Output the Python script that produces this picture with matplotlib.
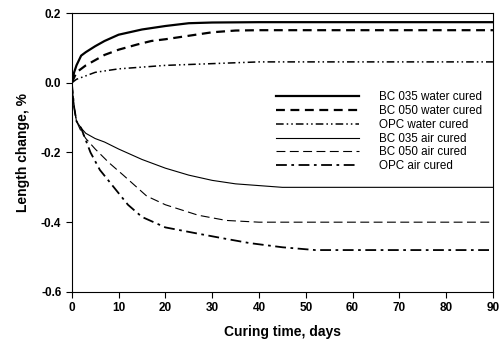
import matplotlib.pyplot as plt

plt.rcParams["font.family"] = ["Liberation Sans", "DejaVu Sans"]

# curing time (days) and length change (%)
days_bc035w = [0, 0.5, 1, 2, 3, 5, 7, 10, 15, 20, 25, 30, 40, 52, 60, 70, 80, 90]
bc035_water = [0, 0.03, 0.05, 0.078, 0.088, 0.105, 0.12, 0.138, 0.153, 0.163, 0.171, 0.173, 0.174, 0.174, 0.174, 0.174, 0.174, 0.174]

days_bc050w = [0, 1, 2, 3, 5, 7, 10, 14, 17, 20, 25, 30, 35, 40, 52, 60, 70, 80, 90]
bc050_water = [0, 0.03, 0.04, 0.05, 0.065, 0.08, 0.095, 0.11, 0.12, 0.125, 0.135, 0.145, 0.15, 0.151, 0.151, 0.151, 0.151, 0.151, 0.151]

days_opcw = [0, 1, 3, 5, 10, 15, 20, 30, 40, 52, 60, 70, 80, 90]
opc_water = [0, 0.01, 0.02, 0.03, 0.04, 0.045, 0.05, 0.055, 0.06, 0.06, 0.06, 0.06, 0.06, 0.06]

days_bc035a = [0, 0.5, 1, 2, 3, 5, 7, 10, 15, 20, 25, 30, 35, 40, 45, 52, 60, 70, 80, 90]
bc035_air = [0, -0.07, -0.11, -0.13, -0.145, -0.16, -0.17, -0.19, -0.22, -0.245, -0.265, -0.28, -0.29, -0.295, -0.3, -0.3, -0.3, -0.3, -0.3, -0.3]

days_bc050a = [0, 0.5, 1, 2, 3, 5, 8, 11, 16, 20, 27, 33, 40, 52, 60, 70, 80, 90]
bc050_air = [0, -0.07, -0.11, -0.14, -0.16, -0.19, -0.23, -0.265, -0.325, -0.35, -0.38, -0.395, -0.4, -0.4, -0.4, -0.4, -0.4, -0.4]

days_opca = [0, 0.5, 1, 2, 4, 6, 9, 12, 15, 20, 27, 33, 38, 45, 52, 60, 70, 80, 90]
opc_air = [0, -0.07, -0.11, -0.13, -0.2, -0.25, -0.3, -0.35, -0.385, -0.415, -0.433, -0.448, -0.46, -0.472, -0.48, -0.48, -0.48, -0.48, -0.48]

xticks = [0, 10, 20, 30, 40, 50, 60, 70, 80, 90]
yticks = [-0.6, -0.4, -0.2, 0.0, 0.2]

fig = plt.figure(figsize=(5.02, 3.45), dpi=100)
ax = fig.add_axes([0.143, 0.154, 0.839, 0.808])

ax.plot(days_bc035w, bc035_water, color="black", lw=1.6, ls="-", label="BC 035 water cured")
ax.plot(days_bc050w, bc050_water, color="black", lw=1.6, ls=(0, (4, 2.5)), label="BC 050 water cured")
ax.plot(days_opcw, opc_water, color="black", lw=1.1, ls=(0, (5, 2, 1, 2, 1, 2)), label="OPC water cured")
ax.plot(days_bc035a, bc035_air, color="black", lw=0.8, ls="-", label="BC 035 air cured")
ax.plot(days_bc050a, bc050_air, color="black", lw=0.8, ls=(0, (8, 4)), label="BC 050 air cured")
ax.plot(days_opca, opc_air, color="black", lw=1.3, ls=(0, (6, 2.5, 1.5, 2.5)), label="OPC air cured")

ax.set_xlim(0, 90)
ax.set_ylim(-0.6, 0.2)
ax.set_xticks(xticks)
ax.set_yticks(yticks)
ax.set_yticklabels(["%.1f" % v for v in yticks])
ax.tick_params(direction="out", length=4, width=0.8, labelsize=8.5)
for lab in ax.get_xticklabels() + ax.get_yticklabels():
    lab.set_fontweight("bold")
for s in ax.spines.values():
    s.set_linewidth(0.8)

ax.set_xlabel("Curing time, days", fontsize=10, fontweight="bold", labelpad=8)
ax.set_ylabel("Length change, %", fontsize=10, fontweight="bold", labelpad=8)

ax.legend(loc="upper left", bbox_to_anchor=(0.472, 0.74), frameon=False, fontsize=8.4,
          borderpad=0, handlelength=7.1, handletextpad=1.7, labelspacing=0.15)

fig.savefig("out.png", dpi=100)
